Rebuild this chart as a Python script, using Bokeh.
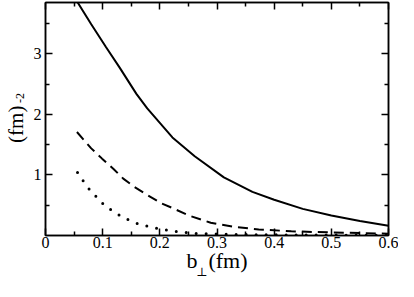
from bokeh.plotting import figure
from bokeh.models import FixedTicker, LinearAxis, CustomJSTickFormatter
from bokeh.embed import file_html
from bokeh.resources import INLINE

# ---- data ----
solid_x = [0.055, 0.08, 0.106, 0.13, 0.159, 0.178, 0.2, 0.222, 0.261, 0.312, 0.362, 0.4, 0.45, 0.5, 0.55, 0.6]
solid_y = [3.87, 3.49, 3.11, 2.77, 2.34, 2.10, 1.86, 1.62, 1.31, 0.96, 0.72, 0.59, 0.44, 0.33, 0.24, 0.16]

dashed_x = [0.055, 0.08, 0.099, 0.119, 0.136, 0.156, 0.178, 0.203, 0.223, 0.251, 0.289, 0.331, 0.373, 0.43, 0.5, 0.6]
dashed_y = [1.71, 1.44, 1.27, 1.10, 0.94, 0.80, 0.67, 0.53, 0.45, 0.33, 0.21, 0.14, 0.10, 0.07, 0.05, 0.03]

dotted_x = [0.056, 0.066, 0.077, 0.089, 0.101, 0.115, 0.130, 0.147, 0.163, 0.181, 0.199, 0.217, 0.235, 0.253, 0.271, 0.35, 0.45, 0.6]
dotted_y = [1.04, 0.90, 0.76, 0.64, 0.52, 0.42, 0.33, 0.25, 0.19, 0.15, 0.11, 0.08, 0.06, 0.04, 0.03, 0.015, 0.008, 0.004]

x_ticks = [0, 0.1, 0.2, 0.3, 0.4, 0.5, 0.6]
x_minor = [0.05, 0.15, 0.25, 0.35, 0.45, 0.55]
y_ticks = [1, 2, 3]
y_minor = [0.5, 1.5, 2.5, 3.5]

x_title = "b\u2002(fm)"
x_title_sub = "\u22a5\u2003\u2003\u2002"
y_title = "(fm)\u2002"
y_title_sup = "\u2003\u2003\u2003\u2002-2"

FONT = "'Liberation Serif'"

p = figure(width=398, height=281, x_range=(0, 0.6), y_range=(0, 3.85),
           output_backend="svg", toolbar_location=None,
           min_border_left=44, min_border_right=10, min_border_top=2, min_border_bottom=43,
           background_fill_color="white", border_fill_color="white")
p.xgrid.visible = False
p.ygrid.visible = False
p.outline_line_color = "black"
p.outline_line_width = 1.5

fmt = CustomJSTickFormatter(code="return Number(tick.toFixed(2)).toString();")
blank = CustomJSTickFormatter(code="return '';")

def style_axis(ax, ticks, minor, show_labels):
    ax.ticker = FixedTicker(ticks=ticks, minor_ticks=minor)
    ax.axis_line_color = "black"
    ax.axis_line_width = 1.5
    ax.major_tick_in = 7
    ax.major_tick_out = 0
    ax.minor_tick_in = 4
    ax.minor_tick_out = 0
    ax.major_tick_line_color = "black"
    ax.minor_tick_line_color = "black"
    ax.major_tick_line_width = 1.5
    ax.minor_tick_line_width = 1.5
    ax.major_label_text_font = FONT
    ax.major_label_text_color = "black"
    ax.major_label_text_line_height = 1.0
    if show_labels:
        ax.formatter = fmt
        ax.major_label_text_font_size = "16px"
    else:
        ax.formatter = blank
        ax.major_label_text_font_size = "1px"
        ax.major_label_standoff = 0

def title_axis(ax, text, size, standoff, font=FONT):
    ax.axis_label = text
    ax.axis_label_text_font = font
    ax.axis_label_text_font_size = size
    ax.axis_label_text_font_style = "normal"
    ax.axis_label_text_color = "black"
    ax.axis_label_text_line_height = 1.0
    ax.axis_label_standoff = standoff

def bare_axis():
    ax = LinearAxis(ticker=FixedTicker(ticks=[]), formatter=blank)
    ax.axis_line_color = None
    ax.major_tick_line_color = None
    ax.minor_tick_line_color = None
    ax.major_tick_out = 0
    ax.minor_tick_out = 0
    ax.major_label_text_font_size = "1px"
    ax.major_label_standoff = 0
    return ax

style_axis(p.xaxis[0], x_ticks, x_minor, True)
style_axis(p.yaxis[0], y_ticks, y_minor, True)
p.xaxis[0].major_label_standoff = 1
p.yaxis[0].major_label_standoff = 4

title_axis(p.xaxis[0], x_title, "22px", -3)
title_axis(p.yaxis[0], y_title_sup, "12px", 4)

top = LinearAxis()
style_axis(top, x_ticks, x_minor, False)
p.add_layout(top, "above")
right = LinearAxis()
style_axis(right, y_ticks, y_minor, False)
p.add_layout(right, "right")

sub_ax = bare_axis()
title_axis(sub_ax, x_title_sub, "12px", -11, font="'DejaVu Serif'")
p.add_layout(sub_ax, "below")

ylab_ax = bare_axis()
title_axis(ylab_ax, y_title, "21px", -18)
p.add_layout(ylab_ax, "left")

p.line(solid_x, solid_y, line_color="black", line_width=2)
p.line(dashed_x, dashed_y, line_color="black", line_width=2, line_dash="10 6")
p.line(dotted_x, dotted_y, line_color="black", line_width=3, line_dash="0 10", line_cap="round")

open("out.html", "w").write(file_html(p, INLINE))
